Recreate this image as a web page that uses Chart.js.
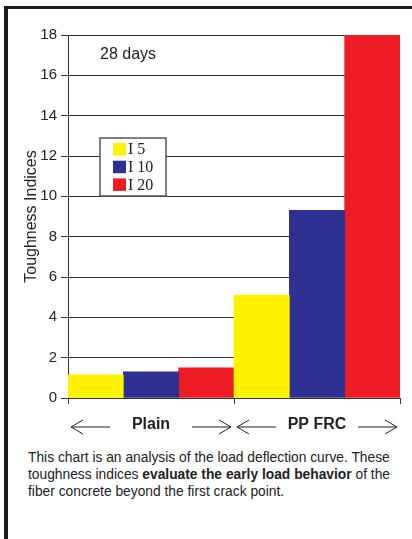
<!DOCTYPE html>
<html>
<head>
<meta charset="utf-8">
<script src="https://cdn.jsdelivr.net/npm/chart.js@4.4.1/dist/chart.umd.min.js"></script>
<style>
  html, body { margin: 0; padding: 0; background: #fff; }
  body { width: 412px; height: 539px; position: relative; overflow: hidden; }
  #frame {
    position: absolute; left: 4px; top: 6px; width: 408px; height: 533px;
    border-top: 3px solid #1c1c1c; border-left: 4px solid #1c1c1c;
  }
  #chart { position: absolute; left: 0; top: 0; }
  #note {
    position: absolute; left: 28px; top: 449px;
    font: 13.8px "Liberation Sans", Arial, sans-serif; line-height: 17px;
    color: #222; white-space: nowrap;
  }
</style>
</head>
<body>
<div id="frame"></div>
<canvas id="chart" width="412" height="445"></canvas>
<div id="note">
  This chart is an analysis of the load deflection curve. These<br>
  toughness indices <b>evaluate the early load behavior</b> of the<br>
  fiber concrete beyond the first crack point.
</div>
<script>
// === Данные ===
const categories = ['Plain', 'PP FRC'];
const seriesNames = ['I 5', 'I 10', 'I 20'];
const i5 = [1.15, 5.1];
const i10 = [1.3, 9.3];
const i20 = [1.5, 18];
const yTicks = [0, 2, 4, 6, 8, 10, 12, 14, 16, 18];

const colors = ['#FFF200', '#2E3192', '#ED1C24'];
const ink = '#222';
const font = '"Liberation Sans", Arial, sans-serif';

// === Стрелки под категориями, легенда и подпись ===
const extras = {
  id: 'extras',
  afterDraw(chart) {
    const { ctx, chartArea: a, scales } = chart;
    const x = scales.x;
    const step = x.getPixelForValue(1) - x.getPixelForValue(0);
    const ay = a.bottom + 29;
    ctx.save();
    ctx.strokeStyle = ink;
    ctx.lineWidth = 1;
    const arrow = (x1, x2, dir) => {
      ctx.beginPath();
      ctx.moveTo(x1, ay);
      ctx.lineTo(x2, ay);
      const tip = dir < 0 ? x1 : x2;
      ctx.moveTo(tip - dir * 12, ay - 7);
      ctx.lineTo(tip, ay);
      ctx.lineTo(tip - dir * 12, ay + 7);
      ctx.stroke();
    };
    categories.forEach((c, i) => {
      const cx = x.getPixelForValue(i);
      const l = cx - step / 2, r = cx + step / 2;
      arrow(l + 3, l + 42, -1);
      arrow(r - 42, r - 3, 1);
    });

    // "28 days"
    ctx.fillStyle = ink;
    ctx.font = '16px ' + font;
    ctx.textBaseline = 'middle';
    ctx.textAlign = 'left';
    ctx.fillText('28 days', a.left + 32, a.top + 20);

    // легенда
    const lx = a.left + 32, ly = a.top + 103;
    ctx.fillStyle = '#fff';
    ctx.fillRect(lx, ly, 66, 58);
    ctx.strokeStyle = '#555';
    ctx.lineWidth = 1.5;
    ctx.strokeRect(lx, ly, 66, 58);
    ctx.font = '16px "Liberation Serif", "Times New Roman", serif';
    chart.data.datasets.forEach((ds, i) => {
      const cy = ly + 11 + i * 17.7;
      ctx.fillStyle = ds.backgroundColor;
      ctx.fillRect(lx + 13, cy - 6, 13, 12.5);
      ctx.fillStyle = ink;
      ctx.fillText(ds.label, lx + 28, cy + 1);
    });
    ctx.restore();
  }
};

new Chart(document.getElementById('chart'), {
  type: 'bar',
  data: {
    labels: categories,
    datasets: [
      { label: seriesNames[0], data: i5, backgroundColor: colors[0] },
      { label: seriesNames[1], data: i10, backgroundColor: colors[1] },
      { label: seriesNames[2], data: i20, backgroundColor: colors[2] }
    ]
  },
  options: {
    responsive: false,
    animation: false,
    devicePixelRatio: 1,
    layout: { padding: { top: 35, right: 12, left: 0, bottom: 0 } },
    datasets: { bar: { categoryPercentage: 1, barPercentage: 1, borderWidth: 0 } },
    plugins: { legend: { display: false }, tooltip: { enabled: false } },
    scales: {
      x: {
        grid: { offset: true, drawOnChartArea: false, tickLength: 6, color: '#333' },
        border: { color: '#333', width: 1 },
        ticks: { color: ink, font: { family: font, size: 16, weight: 'bold' }, padding: 11 },
        afterFit: s => { s.height = 47; }
      },
      y: {
        min: 0, max: 18,
        afterBuildTicks: s => { s.ticks = yTicks.map(v => ({ value: v })); },
        grid: { color: '#333', lineWidth: 1, tickLength: 7 },
        border: { color: '#333', width: 1 },
        ticks: { color: ink, font: { family: font, size: 15 }, padding: 4 },
        title: {
          display: true, text: 'Toughness Indices', color: ink,
          font: { family: font, size: 16 }, padding: { top: 22, bottom: 0 }
        },
        afterFit: s => { s.width = 68; }
      }
    }
  },
  plugins: [extras]
});
</script>
</body>
</html>
